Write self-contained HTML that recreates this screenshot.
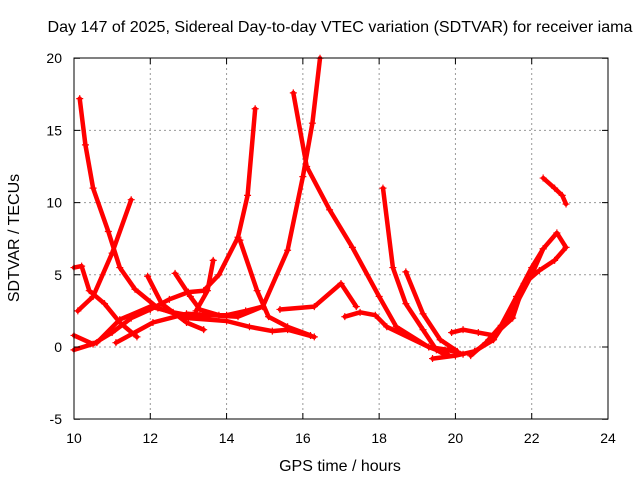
<!DOCTYPE html>
<html><head><meta charset="utf-8"><style>
body{margin:0;background:#fff}
svg{display:block;font-family:"Liberation Sans",sans-serif}
</style></head><body>
<svg id="chart" width="640" height="480" viewBox="0 0 640 480">
<text x="340" y="32" font-size="16" text-anchor="middle" textLength="585" lengthAdjust="spacingAndGlyphs">Day 147 of 2025, Sidereal Day-to-day VTEC variation (SDTVAR) for receiver iama</text>
<text x="340" y="471" font-size="16" text-anchor="middle">GPS time / hours</text>
<text transform="translate(19,238) rotate(-90)" font-size="16" text-anchor="middle">SDTVAR / TECUs</text>
<g id="grid"></g>
<g id="series"></g>
<rect x="74" y="58" width="534" height="361" fill="none" stroke="#000" stroke-width="1"/>
<g id="ticks"></g>
</svg>
<script>
const xTicks=[10,12,14,16,18,20,22,24];
const yTicks=[-5,0,5,10,15,20];
const track1=[[10.15,17.2],[10.3,14],[10.5,11],[10.9,8],[11.2,5.5],[11.6,4],[12.2,2.7],[13,2],[14,1.8],[14.6,1.4],[15.2,1.1],[15.6,1.2],[16.3,0.7]];
const track2=[[10.1,2.5],[10.5,3.5],[11,6.5],[11.5,10.2]];
const track3=[[10,5.5],[10.2,5.6],[10.4,3.9],[10.8,3],[11.2,1.7],[11.65,0.7]];
const track4=[[10,0.8],[10.5,0.2],[11,1],[11.5,2],[12,2.6],[12.5,3.3],[13,3.8],[13.4,3.9],[13.8,5],[14.3,7.6],[14.55,10.5],[14.75,16.5]];
const track5=[[10,-0.2],[10.6,0.3],[11.2,1.9],[12,2.8],[12.6,2.4],[13,2.2],[14,2.2],[14.5,2.5],[14.95,2.8],[15.6,6.7],[16,11.8],[16.25,15.5],[16.45,20]];
const track6=[[15.75,17.6],[16.1,12.5],[16.7,9.5],[17.3,6.9],[18,3.5],[18.45,1.4],[19.3,0],[19.8,-0.2],[20.2,-0.5]];
const track7=[[14.35,7.4],[14.8,3.9],[15.1,2.1],[15.6,1.4],[16.2,0.8]];
const track8=[[15.4,2.6],[16.3,2.8],[17,4.4],[17.4,2.8]];
const track9=[[17.1,2.1],[17.5,2.4],[17.9,2.2],[18.2,1.4],[19.3,0],[19.8,-0.5]];
const track10=[[18.1,11],[18.36,5.5],[18.7,3],[19.15,1.2],[19.5,-0.2],[19.7,-0.5]];
const track11=[[18.7,5.2],[19.15,2.3],[19.6,0.5],[20.05,-0.3]];
const track12=[[19.4,-0.8],[20,-0.6],[20.5,-0.3],[21,0.5],[21.5,2.5],[22,5],[22.3,6.8]];
const track13=[[19.9,1],[20.2,1.2],[20.6,1],[21,0.8],[21.5,2],[21.8,4.4],[22.2,5.3],[22.6,6],[22.9,6.9],[22.66,7.9],[22.3,6.8],[22,5.5],[21.6,3.5],[21.2,1.5],[20.8,0.3],[20.4,-0.6]];
const track14=[[22.3,11.7],[22.6,11],[22.8,10.5],[22.9,9.9]];
const track15=[[11.93,4.9],[12.3,3],[12.95,1.7],[13.4,1.2]];
const track16=[[12.65,5.1],[13.05,3.5],[13.3,2.6],[13.8,2.2]];
const track17=[[13.65,6],[13.5,3.9],[13.2,2.5]];
const track18=[[11.1,0.3],[12.07,1.7],[12.95,2.3],[14.3,2.1],[14.95,2.8]];
const tracks=[track1,track2,track3,track4,track5,track6,track7,track8,track9,track10,track11,track12,track13,track14,track15,track16,track17,track18];
const X=h=>74+(h-10)*534/14;
const Y=v=>347-v*361/25;
const NS='http://www.w3.org/2000/svg';
const grid=document.getElementById('grid'),ticks=document.getElementById('ticks'),ser=document.getElementById('series');
function mk(tag,attrs,parent){const e=document.createElementNS(NS,tag);for(const k in attrs)e.setAttribute(k,attrs[k]);parent.appendChild(e);return e;}
xTicks.forEach(t=>{
  const x=X(t);
  if(t>10&&t<24){const g=mk('line',{x1:x,x2:x,y1:58,y2:419,stroke:'#999','stroke-dasharray':'2,3'},grid);
  
  }
  const l=mk('text',{x:x,y:443,'font-size':14,'text-anchor':'middle'},ticks);l.textContent=t;
  
  
  const tk=mk('path',{d:`M${x},419v-6M${x},58v6`,stroke:'#000'},ticks);
  
  
});
yTicks.forEach(t=>{
  const y=Y(t);
  if(t>-5&&t<20){const g=mk('line',{x1:74,x2:608,y1:y,y2:y,stroke:'#999','stroke-dasharray':'2,3'},grid);
  
  }
  const l=mk('text',{x:62,y:y+5,'font-size':14,'text-anchor':'end'},ticks);l.textContent=t;
  
  
  const tk=mk('path',{d:`M74,${y}h6M608,${y}h-6`,stroke:'#000'},ticks);
  
  
});
tracks.forEach((tr,i)=>{
  const pts=tr.map(p=>X(p[0]).toFixed(1)+','+Y(p[1]).toFixed(1)).join(' ');
  const pl=mk('polyline',{points:pts,fill:'none',stroke:'#f00','stroke-width':4.5,'stroke-linejoin':'round','stroke-linecap':'round'},ser);
  
  
  tr.forEach(p=>{
    const m=mk('path',{d:`M${X(p[0])-3.5},${Y(p[1])}h7M${X(p[0])},${Y(p[1])-3.5}v7`,stroke:'#f00','stroke-width':1.2},ser);
    
    
  });
});
</script>
</body></html>
